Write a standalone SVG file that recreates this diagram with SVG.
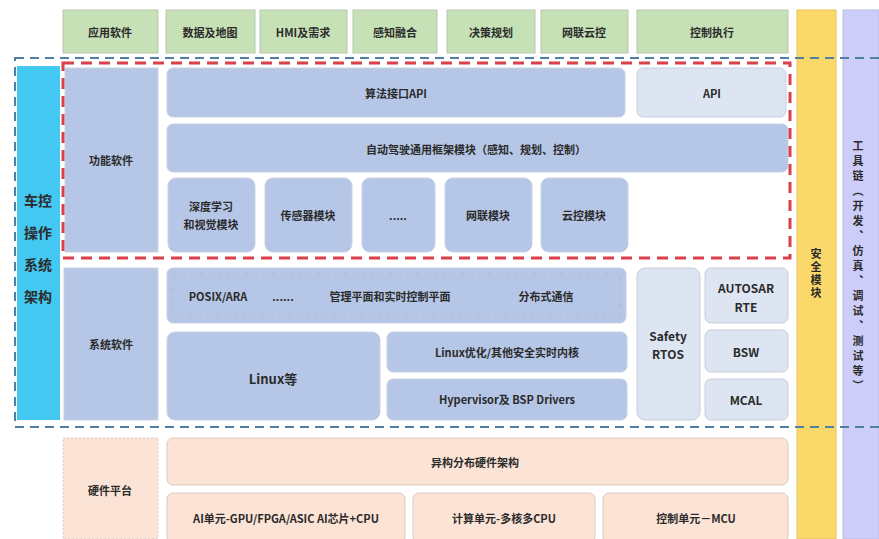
<svg xmlns="http://www.w3.org/2000/svg" width="879" height="539" viewBox="0 0 879 539">
<style>
text{font-family:"Noto Sans CJK SC","Liberation Sans",sans-serif;font-weight:bold;fill:#2b2b2b;text-anchor:middle;dominant-baseline:central}
.g{fill:#c7e1b6;stroke:#b9c6b0;stroke-width:1}
.b{fill:#b5c6e6;stroke:#c8d2e4;stroke-width:1}
.l{fill:#dde5f2;stroke:#c5cedd;stroke-width:1}
.p{fill:#fbe3d6;stroke:#d9c9c0;stroke-width:1}
.t{font-size:11px}
.s{font-size:12px}
</style>
<rect width="879" height="539" fill="#ffffff"/>
<g id="yellow"><rect x="797" y="10" width="39" height="529" fill="#fbd86a" stroke="#e6c45e"/><text x="816" y="274" class="t" style="writing-mode:tb;letter-spacing:2px">安全模块</text></g>
<g id="purple"><rect x="843" y="10" width="36" height="529" fill="#cdcdf9" stroke="#bdbde6"/><text x="858" y="268" class="t" style="writing-mode:tb;letter-spacing:4px">工具链（开发、仿真、调试、测试等）</text></g>
<g id="top-row">
<rect class="g" x="63" y="10" width="95" height="43"/><text class="t" x="110" y="32">应用软件</text>
<rect class="g" x="166" y="10" width="89" height="43"/><text class="t" x="210" y="32">数据及地图</text>
<rect class="g" x="260" y="10" width="87" height="43"/><text class="t" x="303" y="32">HMI及需求</text>
<rect class="g" x="353" y="10" width="84" height="43"/><text class="t" x="395" y="32">感知融合</text>
<rect class="g" x="447" y="10" width="88" height="43"/><text class="t" x="491" y="32">决策规划</text>
<rect class="g" x="541" y="10" width="87" height="43"/><text class="t" x="584" y="32">网联云控</text>
<rect class="g" x="637" y="10" width="151" height="43"/><text class="t" x="712" y="32">控制执行</text>
</g>
<g id="os-frame">
<rect x="15" y="58" width="870" height="369" fill="none" stroke="#4f7fa3" stroke-width="2" stroke-dasharray="9,6"/>
<rect x="17" y="66" width="43" height="354" fill="#43c8f2"/>
<text x="38" y="200" font-size="14">车控</text>
<text x="38" y="232" font-size="14">操作</text>
<text x="38" y="264" font-size="14">系统</text>
<text x="38" y="296" font-size="14">架构</text>
</g>
<g id="func">
<rect class="b" x="65" y="68" width="93" height="184"/><text class="t" x="111" y="160">功能软件</text>
<rect class="b" x="167" y="68" width="458" height="49" rx="6"/><text class="t" x="396" y="93">算法接口API</text>
<rect class="l" x="637" y="68" width="149" height="49" rx="6"/><text class="t" x="712" y="93">API</text>
<rect class="b" x="167" y="124" width="621" height="48" rx="6"/><text class="t" x="476" y="149">自动驾驶通用框架模块（感知、规划、控制）</text>
<rect class="b" x="168" y="178" width="87" height="74" rx="8"/><text class="t" x="211" y="206">深度学习</text><text class="t" x="211" y="224">和视觉模块</text>
<rect class="b" x="265" y="178" width="87" height="74" rx="8"/><text class="t" x="308" y="215">传感器模块</text>
<rect class="b" x="362" y="178" width="73" height="74" rx="8"/><text class="t" x="398" y="215">.....</text>
<rect class="b" x="445" y="178" width="87" height="74" rx="8"/><text class="t" x="488" y="215">网联模块</text>
<rect class="b" x="541" y="178" width="87" height="74" rx="8"/><text class="t" x="584" y="215">云控模块</text>
</g>
<rect id="red-frame" x="63" y="63" width="727" height="195" fill="none" stroke="#d8414a" stroke-width="3" stroke-dasharray="11,7"/>
<g id="sys">
<rect class="b" x="64" y="268" width="94" height="152"/><text class="t" x="111" y="344">系统软件</text>
<rect class="b" x="167" y="268" width="459" height="55" rx="6"/>
<rect x="173" y="274" width="447" height="43" fill="none" stroke="#a9b8d3" stroke-width="1" stroke-dasharray="3,6"/>
<text class="t" x="218" y="296">POSIX/ARA</text><text class="t" x="283" y="296">......</text>
<text class="t" x="390" y="296">管理平面和实时控制平面</text><text class="t" x="546" y="296">分布式通信</text>
<rect class="b" x="167" y="332" width="213" height="88" rx="8"/><text x="273" y="378" font-size="13">Linux等</text>
<rect class="b" x="387" y="332" width="240" height="40" rx="6"/><text class="t" x="507" y="352">Linux优化/其他安全实时内核</text>
<rect class="b" x="387" y="379" width="240" height="41" rx="6"/><text class="t" x="507" y="399">Hypervisor及 BSP Drivers</text>
<rect class="l" x="637" y="268" width="63" height="152" rx="8" fill="#e6ebf4"/><text class="s" x="668" y="335">Safety</text><text class="s" x="668" y="353">RTOS</text>
<rect class="l" x="705" y="268" width="83" height="55" rx="6"/><text class="s" x="746" y="287">AUTOSAR</text><text class="s" x="746" y="306">RTE</text>
<rect class="l" x="705" y="330" width="83" height="42" rx="6"/><text class="s" x="746" y="351">BSW</text>
<rect class="l" x="705" y="379" width="83" height="41" rx="6"/><text class="s" x="746" y="399">MCAL</text>
</g>
<g id="hw">
<rect class="p" x="63" y="438" width="95" height="101" stroke-dasharray="2,2"/><text class="t" x="110" y="490">硬件平台</text>
<rect class="p" x="167" y="438" width="621" height="47" rx="6"/><text class="t" x="475" y="462">异构分布硬件架构</text>
<rect class="p" x="167" y="493" width="238" height="50" rx="6"/><text class="t" x="286" y="518">AI单元-GPU/FPGA/ASIC AI芯片+CPU</text>
<rect class="p" x="413" y="493" width="182" height="50" rx="6"/><text class="t" x="504" y="518">计算单元-多核多CPU</text>
<rect class="p" x="603" y="493" width="185" height="50" rx="6"/><text class="t" x="696" y="518">控制单元－MCU</text>
</g>
<g id="connectors"></g>
</svg>
